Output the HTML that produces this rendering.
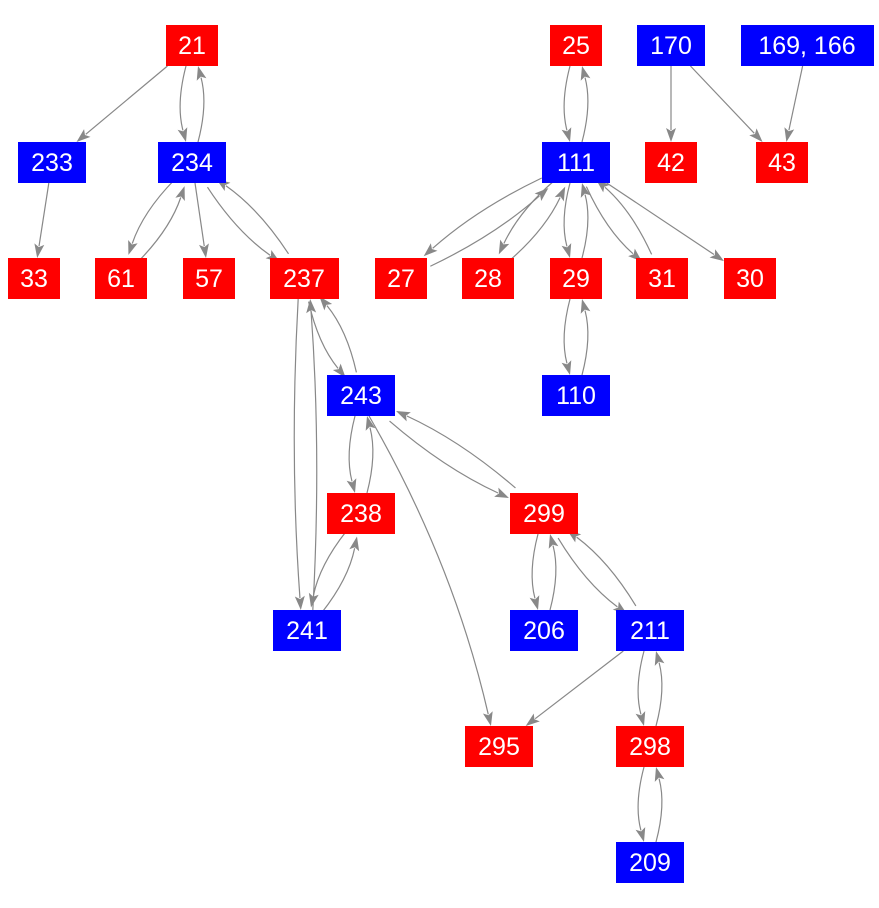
<!DOCTYPE html>
<html><head><meta charset="utf-8"><style>
html,body{margin:0;padding:0;background:#fff;}
svg{display:block;}
text{font-family:"Liberation Sans",Arial,sans-serif;font-size:25px;fill:#fff;text-anchor:middle;dominant-baseline:central;}
</style></head><body>
<svg id="s" width="879" height="908" viewBox="0 0 879 908" xmlns="http://www.w3.org/2000/svg">
<g id="edges" stroke="#888" stroke-width="1.2" fill="none"></g>
<g id="heads" fill="#888"></g>
<g id="nodes">
<rect x="166" y="25" width="52" height="41" fill="#f00"/><text x="192" y="46">21</text>
<rect x="550" y="25" width="52" height="41" fill="#f00"/><text x="576" y="46">25</text>
<rect x="637" y="25" width="68" height="41" fill="#00f"/><text x="671" y="46">170</text>
<rect x="741" y="25" width="133" height="41" fill="#00f"/><text x="807" y="46">169, 166</text>
<rect x="18" y="142" width="68" height="41" fill="#00f"/><text x="52" y="163">233</text>
<rect x="158" y="142" width="68" height="41" fill="#00f"/><text x="192" y="163">234</text>
<rect x="542" y="142" width="68" height="41" fill="#00f"/><text x="576" y="163">111</text>
<rect x="645" y="142" width="52" height="41" fill="#f00"/><text x="671" y="163">42</text>
<rect x="756" y="142" width="52" height="41" fill="#f00"/><text x="782" y="163">43</text>
<rect x="8" y="258" width="52" height="41" fill="#f00"/><text x="34" y="279">33</text>
<rect x="95" y="258" width="52" height="41" fill="#f00"/><text x="121" y="279">61</text>
<rect x="183" y="258" width="52" height="41" fill="#f00"/><text x="209" y="279">57</text>
<rect x="270" y="258" width="69" height="41" fill="#f00"/><text x="304" y="279">237</text>
<rect x="375" y="258" width="52" height="41" fill="#f00"/><text x="401" y="279">27</text>
<rect x="462" y="258" width="52" height="41" fill="#f00"/><text x="488" y="279">28</text>
<rect x="550" y="258" width="52" height="41" fill="#f00"/><text x="576" y="279">29</text>
<rect x="636" y="258" width="52" height="41" fill="#f00"/><text x="662" y="279">31</text>
<rect x="724" y="258" width="52" height="41" fill="#f00"/><text x="750" y="279">30</text>
<rect x="327" y="375" width="68" height="41" fill="#00f"/><text x="361" y="396">243</text>
<rect x="542" y="375" width="68" height="41" fill="#00f"/><text x="576" y="396">110</text>
<rect x="327" y="493" width="68" height="41" fill="#f00"/><text x="361" y="514">238</text>
<rect x="510" y="493" width="68" height="41" fill="#f00"/><text x="544" y="514">299</text>
<rect x="273" y="610" width="68" height="41" fill="#00f"/><text x="307" y="631">241</text>
<rect x="510" y="610" width="68" height="41" fill="#00f"/><text x="544" y="631">206</text>
<rect x="616" y="610" width="68" height="41" fill="#00f"/><text x="650" y="631">211</text>
<rect x="465" y="726" width="68" height="41" fill="#f00"/><text x="499" y="747">295</text>
<rect x="616" y="726" width="68" height="41" fill="#f00"/><text x="650" y="747">298</text>
<rect x="616" y="842" width="68" height="41" fill="#00f"/><text x="650" y="863">209</text>
</g>
</svg>
<script>
var N={
'21':[192,45.5,26],'25':[576,45.5,26],'170':[671,45.5,34],'169':[807,45.5,66],
'233':[52,162.5,34],'234':[192,162.5,34],'111':[576,162.5,34],'42':[671,162.5,26],'43':[782,162.5,26],
'33':[34,278.5,26],'61':[121,278.5,26],'57':[209,278.5,26],'237':[304,278.5,34],'27':[401,278.5,26],'28':[488,278.5,26],'29':[576,278.5,26],'31':[662,278.5,26],'30':[750,278.5,26],
'243':[361,395.5,34],'110':[576,395.5,34],'238':[361,513.5,34],'299':[544,513.5,34],
'241':[307,630.5,34],'206':[544,630.5,34],'211':[650,630.5,34],'295':[499,746.5,34],'298':[650,746.5,34],'209':[650,862.5,34]};
var pairs=[['21','234'],['234','61'],['234','237'],['237','241'],['237','243'],['243','238'],['243','299'],['238','241'],['299','206'],['299','211'],['211','298'],['298','209'],['25','111'],['111','27'],['111','28'],['111','29'],['111','31'],['29','110']];
var singles=[['21','233',0],['233','33',0],['234','57',0],['243','295',-25],['211','295',0],['111','30',0],['170','42',0],['170','43',0],['169','43',0]];
var E=[];
pairs.forEach(function(p){E.push([p[0],p[1],1]);E.push([p[1],p[0],1]);});
singles.forEach(function(s){E.push([s[0],s[1],0,s[2]]);});
function clip(n,dx,dy){var hw=n[2],hh=20.5;var t=Math.min(Math.abs(dx)>1e-6?hw/Math.abs(dx):1e9,Math.abs(dy)>1e-6?hh/Math.abs(dy):1e9);return [n[0]+dx*t,n[1]+dy*t];}
var eg=document.getElementById('edges'),hg=document.getElementById('heads'),ns='http://www.w3.org/2000/svg';
E.forEach(function(e){
 var a=N[e[0]],b=N[e[1]];var dx=b[0]-a[0],dy=b[1]-a[1],L=Math.hypot(dx,dy);var ux=dx/L,uy=dy/L;var px=-uy,py=ux;
 var off=e[2]?6:0,bend=e[2]?10:(e[3]||0);
 var s=clip(a,ux,uy),t=clip(b,-ux,-uy);
 s=[s[0]+px*off,s[1]+py*off];t=[t[0]+px*off,t[1]+py*off];
 var c=[(s[0]+t[0])/2+px*bend,(s[1]+t[1])/2+py*bend];
 var tx=t[0]-c[0],ty=t[1]-c[1],tl=Math.hypot(tx,ty);tx/=tl;ty/=tl;
 var al=14,aw=5;var bx=t[0]-tx*al,by=t[1]-ty*al;
 var ex=t[0]-tx*(al-2),ey=t[1]-ty*(al-2);
 var p=document.createElementNS(ns,'path');p.setAttribute('d','M'+s[0]+','+s[1]+' Q'+c[0]+','+c[1]+' '+ex+','+ey);eg.appendChild(p);
 var h=document.createElementNS(ns,'polygon');
 h.setAttribute('points',t[0]+','+t[1]+' '+(bx-ty*aw)+','+(by+tx*aw)+' '+(t[0]-tx*(al-3))+','+(t[1]-ty*(al-3))+' '+(bx+ty*aw)+','+(by-tx*aw));
 hg.appendChild(h);
});
</script>
</body></html>
